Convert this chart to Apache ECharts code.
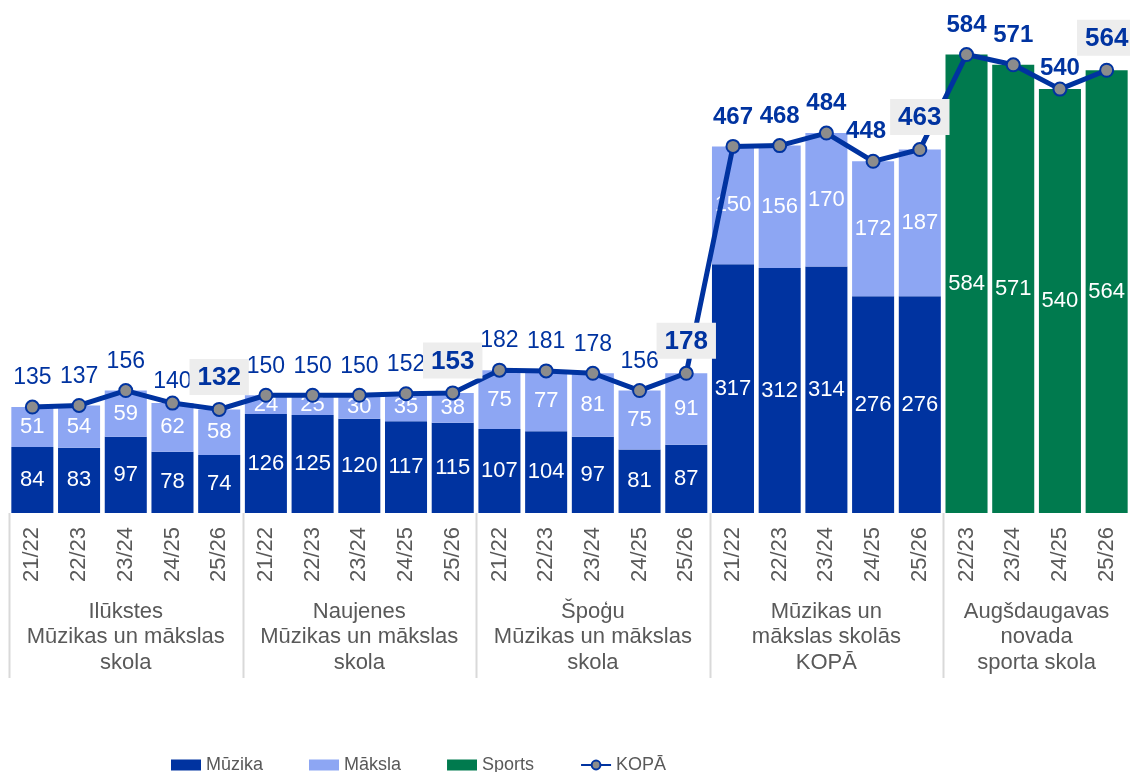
<!DOCTYPE html>
<html>
<head>
<meta charset="utf-8">
<title>Skolu audzēkņu skaits</title>
<script src="https://cdn.jsdelivr.net/npm/echarts@6/dist/echarts.min.js"></script>
<style>
  html, body { margin: 0; padding: 0; background: #fff; }
  #chart { width: 1130px; height: 772px; }
</style>
</head>
<body>
<div id="chart"></div>
<script>
  "use strict";
  var seasons = [
    "21/22", "22/23", "23/24", "24/25", "25/26",
    "21/22", "22/23", "23/24", "24/25", "25/26",
    "21/22", "22/23", "23/24", "24/25", "25/26",
    "21/22", "22/23", "23/24", "24/25", "25/26",
    "22/23", "23/24", "24/25", "25/26"
  ];
  var groups = [
    "Ilūkstes\nMūzikas un mākslas\nskola",
    "Naujenes\nMūzikas un mākslas\nskola",
    "Špoģu\nMūzikas un mākslas\nskola",
    "Mūzikas un\nmākslas skolās\nKOPĀ",
    "Augšdaugavas\nnovada\nsporta skola"
  ];
  var groupSizes = [5, 5, 5, 5, 4];
  var muzika = [84, 83, 97, 78, 74, 126, 125, 120, 117, 115, 107, 104, 97, 81, 87, 317, 312, 314, 276, 276, "-", "-", "-", "-"];
  var maksla = [51, 54, 59, 62, 58, 24, 25, 30, 35, 38, 75, 77, 81, 75, 91, 150, 156, 170, 172, 187, "-", "-", "-", "-"];
  var sports = ["-", "-", "-", "-", "-", "-", "-", "-", "-", "-", "-", "-", "-", "-", "-", "-", "-", "-", "-", "-", 584, 571, 540, 564];
  var kopa = [135, 137, 156, 140, 132, 150, 150, 150, 152, 153, 182, 181, 178, 156, 178, 467, 468, 484, 448, 463, 584, 571, 540, 564];

  var blue = "#0033A0";
  var grey = "#595959";
  var font = "Liberation Sans";

  // last season of every group gets a boxed bold label, the totals groups are bold
  var lastIdx = [];
  var acc = 0;
  for (var g = 0; g < groupSizes.length; g++) {
    acc += groupSizes[g];
    lastIdx.push(acc - 1);
  }
  // labels that were nudged aside next to a boxed one
  var nudge = { 3: [0, 8], 18: [-7, 0], 22: [0, 9] };
  var kopaData = kopa.map(function (v, i) {
    var item = { value: v, label: {} };
    if (lastIdx.indexOf(i) >= 0) {
      item.label = { fontWeight: "bold", fontSize: 26, backgroundColor: "#EDEDED", padding: [6, 8, 4, 8], distance: 7 };
    } else if (i >= 15) {
      item.label = { fontWeight: "bold", fontSize: 24 };
    }
    if (nudge[i]) {
      item.label.offset = nudge[i];
    }
    return item;
  });

  var barLabel = { show: true, position: "inside", color: "#fff", fontSize: 22, fontFamily: font };

  var chart = echarts.init(document.getElementById("chart"));
  var option = {
    animation: false,
    grid: { left: 9, right: 0, top: 42, bottom: 259, containLabel: false },
    legend: {
      data: [
        { name: "Mūzika", icon: "rect" },
        { name: "Māksla", icon: "rect" },
        { name: "Sports", icon: "rect" },
        { name: "KOPĀ" }
      ],
      left: 166,
      top: 751,
      itemWidth: 30,
      itemHeight: 11,
      itemGap: 46,
      textStyle: { fontSize: 18, color: grey, fontFamily: font }
    },
    xAxis: {
      type: "category",
      data: seasons,
      axisLine: { show: false },
      axisTick: { show: false },
      axisLabel: { rotate: 90, fontSize: 22, color: grey, fontFamily: font, margin: 14, interval: 0 }
    },
    yAxis: { type: "value", min: 0, max: 600, show: false, splitLine: { show: false } },
    series: [
      {
        name: "Mūzika", type: "bar", stack: "s", data: muzika, barCategoryGap: "10%",
        itemStyle: { color: blue }, label: barLabel
      },
      {
        name: "Māksla", type: "bar", stack: "s", data: maksla,
        itemStyle: { color: "#8DA6F3" }, label: barLabel
      },
      {
        name: "Sports", type: "bar", stack: "s", data: sports,
        itemStyle: { color: "#007A4E" }, label: barLabel
      },
      {
        name: "KOPĀ", type: "line", data: kopaData, z: 5,
        symbol: "circle", symbolSize: 13,
        lineStyle: { color: blue, width: 5 },
        itemStyle: { color: "#8C8C8C", borderColor: blue, borderWidth: 2 },
        label: { show: true, position: "top", distance: 10, color: blue, fontSize: 23, fontFamily: font }
      }
    ]
  };
  chart.setOption(option);

  // group labels and separators under the axis
  var c0 = chart.convertToPixel({ xAxisIndex: 0 }, 0);
  var c1 = chart.convertToPixel({ xAxisIndex: 0 }, 1);
  var step = c1 - c0;
  var axisY = chart.convertToPixel({ yAxisIndex: 0 }, 0);
  var elements = [];
  var start = 0;
  for (var k = 0; k < groups.length; k++) {
    var left = chart.convertToPixel({ xAxisIndex: 0 }, start) - step / 2;
    var right = chart.convertToPixel({ xAxisIndex: 0 }, start + groupSizes[k] - 1) + step / 2;
    elements.push({
      type: "line",
      shape: { x1: Math.round(left) + 0.5, y1: axisY, x2: Math.round(left) + 0.5, y2: axisY + 165 },
      style: { stroke: "#D9D9D9", lineWidth: 2 }
    });
    elements.push({
      type: "text",
      x: (left + right) / 2,
      y: axisY + 86,
      style: {
        text: groups[k], fill: grey, fontSize: 22, fontFamily: font,
        align: "center", verticalAlign: "top", lineHeight: 25.5
      }
    });
    start += groupSizes[k];
  }
  chart.setOption({ graphic: { elements: elements } });
</script>
</body>
</html>
